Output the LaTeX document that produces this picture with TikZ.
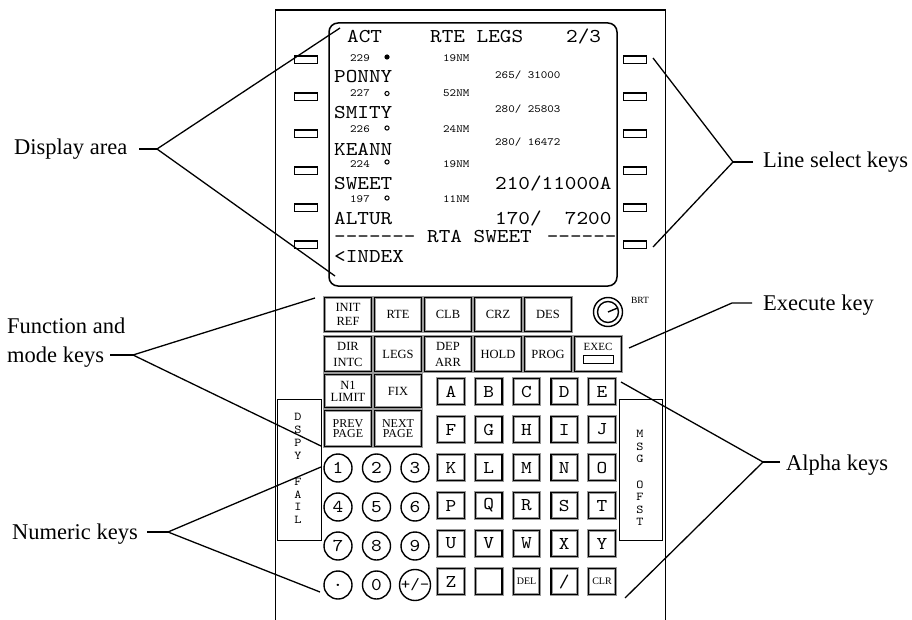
\documentclass[tikz,border=0pt]{standalone}
\usepackage{fontspec}
\setmainfont{Liberation Serif}
\newfontfamily\monof{lmmono10-regular.otf}[FakeStretch=1.13]
\begin{document}
\begin{tikzpicture}[x=1pt,y=-1pt,
  panel/.style={line width=1.3pt},
  lsk/.style={draw, line width=1.5pt, minimum width=23pt, minimum height=7.5pt, inner sep=0pt},
  fkey/.style={draw=black, line width=1.4pt, preaction={draw=black!40, line width=3.4pt},
    minimum width=46.5pt, inner sep=0pt, align=center, font=\fontsize{12.5}{13.5}\selectfont},
  akey/.style={draw=black, line width=1.4pt, preaction={draw=black!40, line width=3pt},
    minimum width=26.5pt, minimum height=25.5pt, inner sep=0pt, font=\monof\fontsize{18}{18}\selectfont},
  nkey/.style={circle, draw, line width=1.4pt, minimum size=28pt, inner sep=0pt, font=\monof\fontsize{18}{18}\selectfont},
  big/.style={anchor=base west, inner sep=0pt, font=\monof\fontsize{19.6}{20}\selectfont},
  small/.style={anchor=base west, inner sep=0pt, font=\monof\fontsize{11}{12}\selectfont},
  vlet/.style={inner sep=0pt, font=\monof\fontsize{12}{12}\selectfont},
  callout/.style={line width=1.3pt},
  lbl/.style={inner sep=0pt, font=\fontsize{22.5}{29}\selectfont}
]
\useasboundingbox (0,0) rectangle (912,620);
% panel outline
\coordinate (pbl) at (275.5,620);
\coordinate (ptl) at (275.5,10);
\coordinate (ptr) at (665.5,10);
\coordinate (pbr) at (665.5,620);
\draw[panel] (pbl) -- (ptl) -- (ptr) -- (pbr);
% display
\node[draw, line width=1.5pt, rounded corners=9pt, minimum width=288pt, minimum height=263pt, inner sep=0pt] (display) at (473,154.5) {};
% line select keys
\foreach \i/\yy in {1/60,2/97,3/134,4/171,5/208,6/245} {
  \node[lsk] (L\i) at (306,\yy) {};
  \node[lsk] (R\i) at (635,\yy) {};
}
% display text
\node[big] (tact) at (347,43) {ACT};
\node[big] (ttitle) at (430,43) {RTE LEGS};
\node[big] (tpage) at (566,43) {2/3};
\node[big] (tw1) at (334,83) {PONNY};
\node[big] (tw2) at (334,119) {SMITY};
\node[big] (tw3) at (334,156) {KEANN};
\node[big] (tw4) at (334,190) {SWEET};
\node[big] (tw5) at (334,225) {ALTUR};
\node[big] (tc4) at (495,190) {210/11000A};
\node[big] (tc5) at (495,225) {170/\ \ 7200};
\node[big] (trta) at (334,243) {-------\ RTA\ SWEET\ \,------};
\node[big] (tidx) at (334,262) {<INDEX};
\node[small] (s1) at (350,62) {229};
\node[small] (s2) at (350,97) {227};
\node[small] (s3) at (350,133) {226};
\node[small] (s4) at (350,168) {224};
\node[small] (s5) at (350,203) {197};
\node[small] (d1) at (443,62) {19NM};
\node[small] (d2) at (443,97) {52NM};
\node[small] (d3) at (443,133) {24NM};
\node[small] (d4) at (443,168) {19NM};
\node[small] (d5) at (443,203) {11NM};
\node[small] (c1) at (495,79) {265/ 31000};
\node[small] (c2) at (495,113) {280/ 25803};
\node[small] (c3) at (495,146) {280/ 16472};
\fill (387,57) circle (2.6pt);
\foreach \yy in {93.5,128,162,198} { \draw[line width=1pt] (387,\yy) circle (2.1pt); }
% function keys row 1
\node[fkey, minimum height=33.5pt] (kinit) at (348,314.5) {INIT\\REF};
\node[fkey, minimum height=33.5pt] (krte) at (398,314.5) {RTE};
\node[fkey, minimum height=33.5pt] (kclb) at (448,314.5) {CLB};
\node[fkey, minimum height=33.5pt] (kcrz) at (498,314.5) {CRZ};
\node[fkey, minimum height=33.5pt] (kdes) at (548,314.5) {DES};
% row 2
\node[fkey, minimum height=34.5pt, font=\fontsize{12.5}{16}\selectfont] (kdir) at (348,354) {DIR\\INTC};
\node[fkey, minimum height=34.5pt] (klegs) at (398,354) {LEGS};
\node[fkey, minimum height=34.5pt, font=\fontsize{12.5}{16}\selectfont] (kdep) at (448,354) {DEP\\ARR};
\node[fkey, minimum height=34.5pt] (khold) at (498,354) {HOLD};
\node[fkey, minimum height=34.5pt] (kprog) at (548,354) {PROG};
\node[fkey, minimum height=34.5pt] (kexec) at (598,354) {};
\node[inner sep=0pt, font=\fontsize{11}{10}\selectfont] (kexeclbl) at (598,347) {EXEC};
\node[draw, line width=1.3pt, minimum width=30pt, minimum height=8pt, inner sep=0pt] (kexeclt) at (598.5,359.5) {};
% row 3 and 4
\node[fkey, minimum height=32.5pt, font=\fontsize{12.5}{12}\selectfont] (kn1) at (348,391) {N1\\LIMIT};
\node[fkey, minimum height=32.5pt] (kfix) at (398,391) {FIX};
\node[fkey, minimum height=35.5pt, font=\fontsize{12}{10.5}\selectfont] (kprev) at (348,428.5) {PREV\\PAGE};
\node[fkey, minimum height=35.5pt, font=\fontsize{12}{10.5}\selectfont] (knext) at (398,428.5) {NEXT\\PAGE};
% BRT knob
\node[circle, draw, line width=1.4pt, minimum size=29pt, inner sep=0pt] (brt) at (608,312) {};
\draw[line width=1.4pt] (brt.center) circle (10.5pt);
\draw[line width=1.4pt] (brt.center) -- ++(9.5,-4);
\node[inner sep=0pt, font=\fontsize{9.5}{9}\selectfont] (brtlbl) at (640,300) {BRT};
% alpha keys
\foreach \row/\list in {0/{A,B,C,D,E},1/{F,G,H,I,J},2/{K,L,M,N,O},3/{P,Q,R,S,T},4/{U,V,W,X,Y}} {
  \foreach \t [count=\c from 0] in \list {
    \node[akey] (a\row\c) at ({451+37.75*\c},{391.5+38*\row}) {\t};
  }
}
\node[akey] (a50) at (451,581.5) {Z};
\node[akey] (a51) at (488.75,581.5) {};
\node[akey, font=\fontsize{10}{9}\selectfont] (a52) at (526.5,581.5) {DEL};
\node[akey] (a53) at (564.25,581.5) {/};
\node[akey, font=\fontsize{10}{9}\selectfont] (a54) at (602,581.5) {CLR};
% numeric keys
\foreach \row/\list in {0/{1,2,3},1/{4,5,6},2/{7,8,9}} {
  \foreach \t [count=\c from 0] in \list {
    \node[nkey] (n\row\c) at ({338+38.5*\c},{468+39*\row}) {\t};
  }
}
\node[nkey] (n30) at (338,585) {.};
\node[nkey] (n31) at (376.5,585) {0};
\node[nkey, font=\monof\fontsize{16}{16}\selectfont] (n32) at (415,585) {+/-};
% DSPY FAIL and MSG OFST
\node[draw, line width=1.4pt, minimum width=43.5pt, minimum height=140.5pt, inner sep=0pt] (dspy) at (299.5,470) {};
\foreach \t [count=\k from 0] in {D,S,P,Y,{},F,A,I,L} {
  \node[vlet] (dl\k) at (298,{417+12.9*\k}) {\t};
}
\node[draw, line width=1.4pt, minimum width=42.5pt, minimum height=140.5pt, inner sep=0pt] (msg) at (641,470) {};
\foreach \t [count=\k from 0] in {M,S,G,{},O,F,S,T} {
  \node[vlet] (ml\k) at (640,{434+12.6*\k}) {\t};
}
% callouts
\node[lbl, anchor=base west] (ldisp) at (14,155) {Display area};
\coordinate (dav) at (157,149);
\coordinate (das) at (139,149);
\coordinate (da1) at (340,28);
\coordinate (da2) at (335,276);
\draw[callout] (das) -- (dav);
\draw[callout] (da1) -- (dav) -- (da2);

\node[lbl, anchor=base west] (llsk) at (763,168) {Line select keys};
\coordinate (lsv) at (733,162);
\coordinate (lss) at (753,162);
\coordinate (ls1) at (653,58);
\coordinate (ls2) at (653,247);
\draw[callout] (lss) -- (lsv);
\draw[callout] (ls1) -- (lsv) -- (ls2);

\node[lbl, anchor=north west, align=left] (lfunc) at (7,317.5) {Function and\\mode keys};
\coordinate (fmv) at (133,355);
\coordinate (fms) at (110,355);
\coordinate (fm1) at (315,298);
\coordinate (fm2) at (321,446);
\draw[callout] (fms) -- (fmv);
\draw[callout] (fm1) -- (fmv) -- (fm2);

\node[lbl, anchor=base west] (lexec) at (763,310) {Execute key};
\coordinate (exs) at (752,303);
\coordinate (exv) at (732,303);
\coordinate (ex1) at (629,348);
\draw[callout] (exs) -- (exv) -- (ex1);

\node[lbl, anchor=base west] (lalpha) at (786,470) {Alpha keys};
\coordinate (alv) at (763,462);
\coordinate (als) at (780,462);
\coordinate (al1) at (621,382);
\coordinate (al2) at (625,598);
\draw[callout] (als) -- (alv);
\draw[callout] (al1) -- (alv) -- (al2);

\node[lbl, anchor=base west] (lnum) at (12,539) {Numeric keys};
\coordinate (nuv) at (168,532);
\coordinate (nus) at (147,532);
\coordinate (nu1) at (321,467);
\coordinate (nu2) at (320,592);
\draw[callout] (nus) -- (nuv);
\draw[callout] (nu1) -- (nuv) -- (nu2);
\end{tikzpicture}
\end{document}
